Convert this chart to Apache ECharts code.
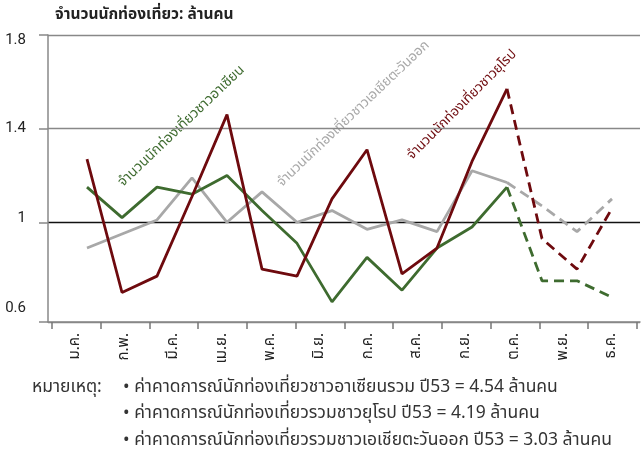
<!DOCTYPE html>
<html>
<head>
<meta charset="utf-8">
<script src="https://cdn.jsdelivr.net/npm/echarts@6/dist/echarts.min.js"></script>
<style>
html, body { margin: 0; padding: 0; background: #fff; }
#chart { width: 642px; height: 455px; }
</style>
</head>
<body>
<div id="chart"></div>
<script>
// เดือน (แกนนอน)
var months = ['ม.ค.', 'ก.พ.', 'มี.ค.', 'เม.ย.', 'พ.ค.', 'มิ.ย.', 'ก.ค.', 'ส.ค.', 'ก.ย.', 'ต.ค.', 'พ.ย.', 'ธ.ค.'];
var yLabels = [0.6, 1, 1.4, 1.8];
var yMin = 0.574;
var yMax = 1.8;

// จุดข้อมูล 16 จุด, ตั้งแต่จุดที่ 12 เป็นค่าคาดการณ์ (เส้นประ)
var points = ['1', '2', '3', '4', '5', '6', '7', '8', '9', '10', '11', '12', '13', '14', '15', '16'];
var forecastFrom = 12;
var asean    = [1.15, 1.02, 1.15, 1.12, 1.20, 1.05, 0.91, 0.66, 0.85, 0.71, 0.89, 0.98, 1.15, 0.75, 0.75, 0.68];
var europe   = [1.27, 0.70, 0.77, 1.11, 1.46, 0.80, 0.77, 1.10, 1.31, 0.78, 0.89, 1.26, 1.57, 0.93, 0.80, 1.06];
var eastAsia = [0.89, 0.95, 1.01, 1.19, 1.00, 1.13, 1.00, 1.05, 0.97, 1.01, 0.96, 1.22, 1.17, 1.07, 0.96, 1.10];

var title = 'จำนวนนักท่องเที่ยว: ล้านคน';
var noteHead = 'หมายเหตุ:';
var notes = [
    '• ค่าคาดการณ์นักท่องเที่ยวชาวอาเซียนรวม ปี53 = 4.54 ล้านคน',
    '• ค่าคาดการณ์นักท่องเที่ยวรวมชาวยุโรป ปี53 = 4.19 ล้านคน',
    '• ค่าคาดการณ์นักท่องเที่ยวรวมชาวเอเชียตะวันออก ปี53 = 3.03 ล้านคน'
];
var seriesNames = ['จำนวนนักท่องเที่ยวชาวอาเซียน', 'จำนวนนักท่องเที่ยวชาวเอเชียตะวันออก', 'จำนวนนักท่องเที่ยวชาวยุโรป'];

var GREEN = '#3e6b2f';
var RED = '#6e0a0e';
var GRAY = '#a8a8a8';
var FONT = "'Noto Sans Thai', 'Noto Sans', sans-serif";

function solid(arr) {
    return arr.map(function (v, i) { return i <= forecastFrom ? v : '-'; });
}
function dashed(arr) {
    return arr.map(function (v, i) { return i >= forecastFrom ? v : '-'; });
}

// เลื่อนป้ายแกนตั้งเล็กน้อยให้ตรงกับต้นฉบับ
var labelStyle = { '1.8': 'dn', '1.4': 'n', '1': 'up', '0.6': 'up2' };

var myChart = echarts.init(document.getElementById('chart'));

var lineSeries = [];
function addLine(name, arr, color) {
    lineSeries.push({
        name: name, type: 'line', xAxisIndex: 2, yAxisIndex: 2,
        data: solid(arr), symbol: 'none', silent: true,
        lineStyle: { color: color, width: 2.8 }
    });
    lineSeries.push({
        name: name, type: 'line', xAxisIndex: 2, yAxisIndex: 2,
        data: dashed(arr), symbol: 'none', silent: true,
        lineStyle: { color: color, width: 2.8, type: [10, 6] }
    });
}
addLine(seriesNames[1], eastAsia, GRAY);
addLine(seriesNames[0], asean, GREEN);
addLine(seriesNames[2], europe, RED);

var graphics = [
    { type: 'text', left: 55, top: 8, style: { text: title, font: 'bold 15.5px ' + FONT, fill: '#222' } },
    { type: 'text', x: 121, y: 185, rotation: Math.PI / 4 * 0.97,
      style: { text: seriesNames[0], font: '14px ' + FONT, fill: GREEN, align: 'left', verticalAlign: 'middle' } },
    { type: 'text', x: 280, y: 185, rotation: Math.PI / 4 * 0.97,
      style: { text: seriesNames[1], font: '13.5px ' + FONT, fill: GRAY, align: 'left', verticalAlign: 'middle' } },
    { type: 'text', x: 410, y: 158, rotation: Math.PI / 4,
      style: { text: seriesNames[2], font: '13.5px ' + FONT, fill: RED, align: 'left', verticalAlign: 'middle' } },
    { type: 'text', x: 32, y: 388, style: { text: noteHead, font: '17.5px ' + FONT, fill: '#333', verticalAlign: 'middle' } }
];
for (var i = 0; i < notes.length; ++i) {
    graphics.push({ type: 'text', x: 123, y: 388 + i * 26.5,
        style: { text: notes[i], font: '17.5px ' + FONT, fill: '#333', verticalAlign: 'middle' } });
}

var option = {
    animation: false,
    grid: [
        { left: 48, right: 2, top: 35, bottom: 133 },
        { left: 52, right: 5.3, top: 35, bottom: 133 },
        { left: 87, right: 30, top: 35, bottom: 133 }
    ],
    xAxis: [
        {
            type: 'value', gridIndex: 0, min: 0, max: 1,
            axisLine: { show: true, onZero: false, lineStyle: { color: '#888', width: 1.5 } },
            axisTick: { show: false }, axisLabel: { show: false }, splitLine: { show: false }
        },
        {
            type: 'category', gridIndex: 1, data: months, boundaryGap: true,
            axisLine: { show: false },
            axisTick: { show: true, length: 7, lineStyle: { color: '#777', width: 1.5 } },
            axisLabel: { rotate: 90, margin: 11, fontSize: 15, color: '#222', fontFamily: FONT, interval: 0 }
        },
        {
            type: 'category', gridIndex: 2, data: points, boundaryGap: false, show: false
        }
    ],
    yAxis: [
        {
            type: 'value', gridIndex: 0, min: yMin, max: yMax,
            axisLine: { show: true, lineStyle: { color: '#888', width: 1.5 } },
            axisTick: { show: true, inside: false, length: 9, customValues: [yMin, 1, 1.4, 1.8],
                        lineStyle: { color: '#888', width: 1.5 } },
            splitLine: { show: true, lineStyle: { color: ['#888', '#111', '#888', '#888'], width: 1.3 } },
            axisLabel: {
                customValues: yLabels, margin: 22, color: '#222', fontSize: 15, fontFamily: 'Roboto',
                formatter: function (v) { return '{' + labelStyle[String(v)] + '|' + v + '}'; },
                rich: {
                    n: { fontSize: 15, color: '#222' },
                    dn: { fontSize: 15, color: '#222', padding: [10, 0, 0, 0] },
                    up: { fontSize: 15, color: '#222', padding: [0, 0, 8, 0] },
                    up2: { fontSize: 15, color: '#222', padding: [0, 0, 16, 0] }
                }
            }
        },
        { type: 'value', gridIndex: 1, min: yMin, max: yMax, show: false },
        { type: 'value', gridIndex: 2, min: yMin, max: yMax, show: false }
    ],
    series: lineSeries,
    graphic: graphics
};

myChart.setOption(option);
</script>
</body>
</html>
